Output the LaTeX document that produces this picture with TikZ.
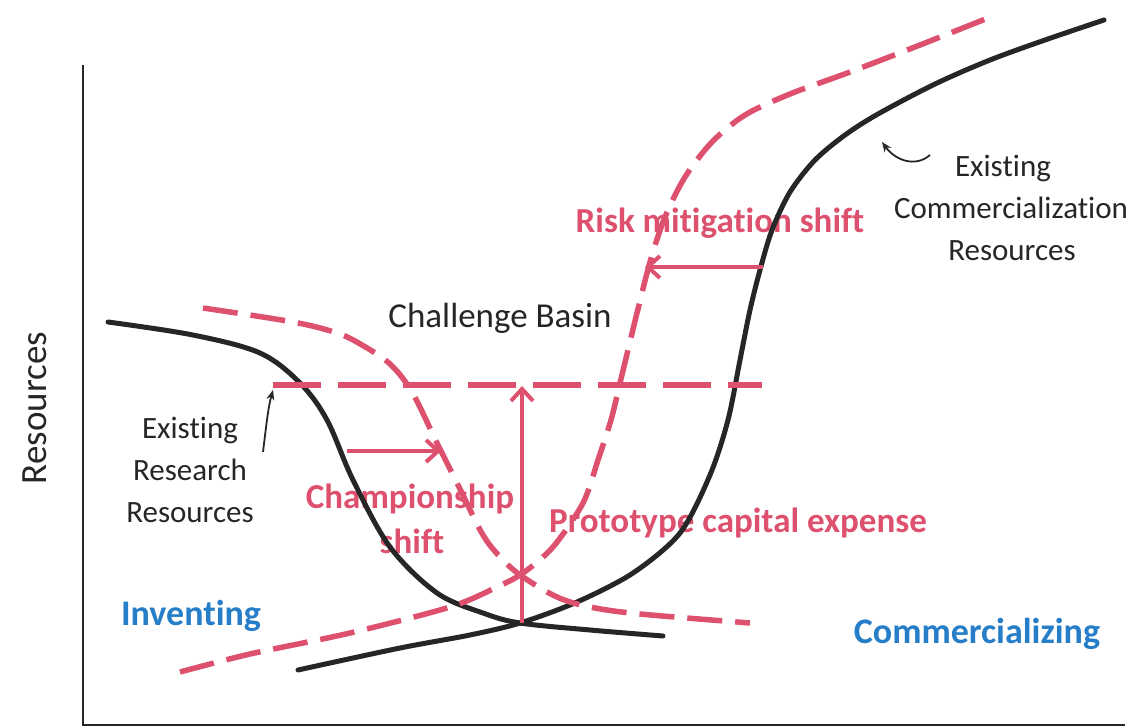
\documentclass[tikz,border=0pt]{standalone}
\usepackage{fontspec}
\setmainfont{Carlito}[Ligatures=NoCommon]
\usetikzlibrary{arrows.meta}
\definecolor{shiftred}{RGB}{221,80,110}
\definecolor{phaseblue}{RGB}{38,125,200}
\definecolor{inkblack}{RGB}{38,38,38}
\begin{document}
\begin{tikzpicture}[x=1pt,y=-1pt,
  axisline/.style={line width=2.5pt, draw=inkblack},
  basecurve/.style={line width=5pt, draw=inkblack, line cap=round},
  shiftcurve/.style={line width=5.5pt, draw=shiftred, dash pattern=on 35pt off 13pt},
  levelline/.style={line width=5.5pt, draw=shiftred, dash pattern=on 48pt off 17pt},
  shiftarrow/.style={line width=4pt, draw=shiftred, -{Straight Barb[length=12pt,width=22pt]}},
  pointer/.style={line width=1.8pt, draw=inkblack, -{Stealth[length=10pt,width=8pt]}},
  lbl/.style={font=\fontsize{31}{36}\selectfont, text=inkblack, anchor=base, inner sep=0pt},
  biglbl/.style={font=\fontsize{35}{40}\selectfont, text=inkblack, anchor=base, inner sep=0pt},
  redlbl/.style={font=\fontsize{35}{40}\selectfont\bfseries, text=shiftred, anchor=base, inner sep=0pt},
  bluelbl/.style={font=\fontsize{36}{40}\selectfont\bfseries, text=phaseblue, anchor=base, inner sep=0pt},
]
\useasboundingbox (0,0) rectangle (1136,728);

% axes
\coordinate (ytop) at (83,65);
\coordinate (origin) at (83,725);
\coordinate (xend) at (1125,725);
\draw[axisline] (ytop) -- (origin) -- (xend);
\node[font=\fontsize{37}{40}\selectfont, text=inkblack, rotate=90, inner sep=0pt] (ylabel) at (35,408) {Resources};

% labels (drawn first so the curves pass over them)
\node[biglbl] (basin) at (500,327) {Challenge Basin};
\node[redlbl] (risk) at (720,232) {Risk mitigation shift};
\node[redlbl] (champ1) at (410,508) {Championship};
\node[redlbl] (champ2) at (412,553) {shift};
\node[redlbl, anchor=base west] (proto) at (549,532) {Prototype capital expense};
\node[bluelbl] (invent) at (191,625) {Inventing};
\node[bluelbl] (commerce) at (977,643) {Commercializing};
\node[lbl] (res1) at (190,438) {Existing};
\node[lbl] (res2) at (190,480) {Research};
\node[lbl] (res3) at (190,522) {Resources};
\node[lbl] (com1) at (1003,176) {Existing};
\node[lbl] (com2) at (1011,218) {Commercialization};
\node[lbl] (com3) at (1012,260) {Resources};

% existing research and commercialization curves
\draw[basecurve] plot[smooth, tension=0.55] coordinates {
  (108,322) (193,335) (260,353) (300,383) (327,420) (353,480) (390,547)
  (437,593) (483,613) (520,623) (590,630) (663,636)};
\draw[basecurve] plot[smooth, tension=0.5] coordinates {
  (298,670) (400,648) (470,635) (520,623) (577,602) (633,573) (680,533)
  (710,475) (728,420) (740,360) (750,310) (760,270) (772,230) (790,192)
  (815,160) (845,135) (878,114) (935,84) (990,60) (1045,40) (1104,20)};

% shifted curves
\draw[shiftcurve] plot[smooth, tension=0.55] coordinates {
  (203,308) (293,322) (337,333) (362,345) (390,364) (412,392) (437,443)
  (458,485) (483,535) (503,560) (523,577) (557,597) (590,607) (640,614) (750,623)};
\draw[shiftcurve] plot[smooth, tension=0.5] coordinates {
  (180,672) (250,654) (350,633) (450,607) (497,587) (523,573) (553,547)
  (583,503) (598,460) (611,420) (620,383) (628,350) (637,313) (650,262)
  (665,217) (685,177) (712,142) (745,115) (790,94) (850,72) (920,45) (988,18)};

% research level
\coordinate (levelA) at (273,385);
\coordinate (levelB) at (762,385);
\draw[levelline] (levelA) -- (levelB);

% shifts
\coordinate (champA) at (347,451);
\coordinate (champB) at (441,451);
\draw[shiftarrow] (champA) -- (champB);
\coordinate (protoA) at (522,623);
\coordinate (protoB) at (522,386);
\draw[shiftarrow] (protoA) -- (protoB);
\coordinate (riskA) at (763,267);
\coordinate (riskB) at (645,267);
\draw[shiftarrow] (riskA) -- (riskB);

% pointers to the existing curves
\coordinate (rpA) at (263,452);
\coordinate (rpB) at (273,390);
\draw[pointer] (rpA) .. controls (266,428) and (268,408) .. (rpB);
\coordinate (cpA) at (930,155);
\coordinate (cpB) at (882,142);
\draw[pointer] (cpA) .. controls (915,168) and (895,160) .. (cpB);
\end{tikzpicture}
\end{document}
